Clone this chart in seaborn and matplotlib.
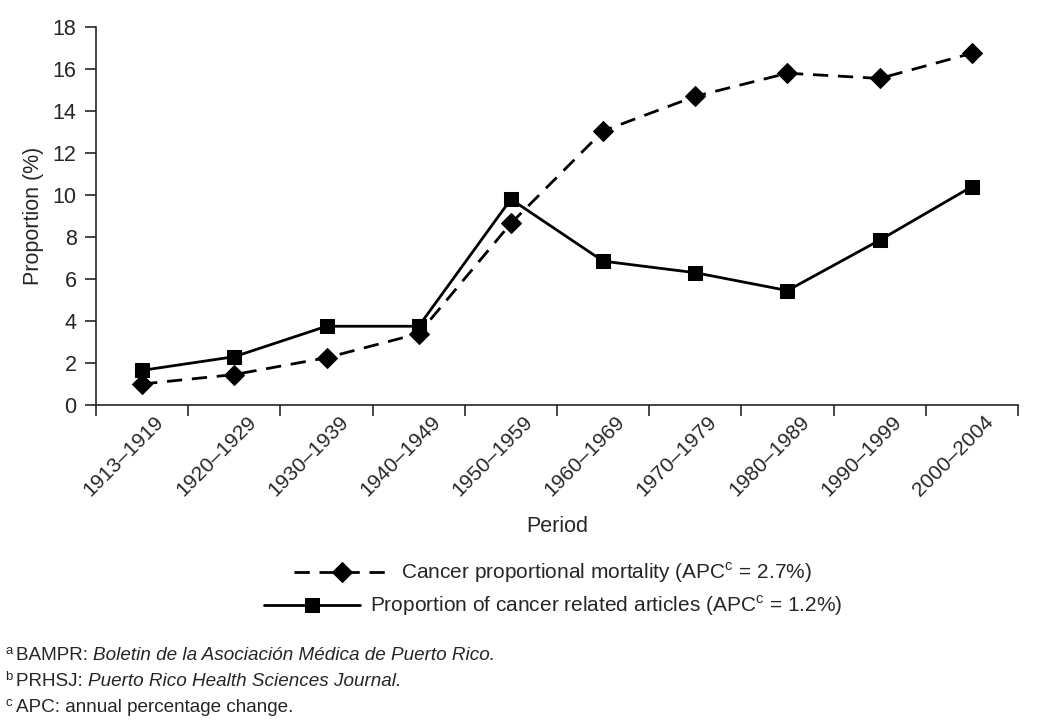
"""Cancer proportional mortality vs. proportion of cancer related articles, by period."""

import matplotlib.pyplot as plt
import pandas as pd
import seaborn as sns
from matplotlib.transforms import ScaledTranslation

periods = ["1913–1919", "1920–1929", "1930–1939", "1940–1949", "1950–1959",
           "1960–1969", "1970–1979", "1980–1989", "1990–1999", "2000–2004"]
mortality = [1.0, 1.45, 2.25, 3.4, 8.65, 13.05, 14.7, 15.8, 15.55, 16.75]
articles = [1.65, 2.3, 3.75, 3.75, 9.8, 6.85, 6.3, 5.45, 7.85, 10.4]

mortality_label = r"Cancer proportional mortality (APC$^{\mathrm{c}}$ = 2.7%)"
articles_label = r"Proportion of cancer related articles (APC$^{\mathrm{c}}$ = 1.2%)"

footnotes = [
    ("a", "BAMPR: ", "Boletin de la Asociación Médica de Puerto Rico."),
    ("b", "PRHSJ: ", "Puerto Rico Health Sciences Journal."),
    ("c", "APC: annual percentage change.", ""),
]

sns.set_style("ticks")
plt.rcParams["font.family"] = ["Liberation Sans", "DejaVu Sans"]
plt.rcParams["mathtext.fontset"] = "custom"
plt.rcParams["mathtext.rm"] = "Liberation Sans"

df = pd.DataFrame({"Period": periods, "Mortality": mortality, "Articles": articles})

fig = plt.figure(figsize=(10.5, 7.26), dpi=100)
ax = fig.add_axes([96 / 1050, 1 - 405 / 726, 922 / 1050, 378 / 726])

sns.lineplot(data=df, x="Period", y="Mortality", ax=ax, color="black",
             linewidth=2.0, linestyle=(0, (5.5, 3.5)), marker="D", markersize=10,
             markeredgecolor="black", legend=False)
sns.lineplot(data=df, x="Period", y="Articles", ax=ax, color="black",
             linewidth=2.0, marker="s", markersize=10,
             markeredgecolor="black", legend=False)
line_mort, line_art = ax.lines[0], ax.lines[1]

ax.set_xlim(-0.5, len(periods) - 0.5)
ax.set_ylim(0, 18)
ax.set_yticks(range(0, 19, 2))
ax.set_xticks(range(len(periods)))
ax.set_xticks([i - 0.5 for i in range(len(periods) + 1)], minor=True)
ax.set_xticklabels(periods, rotation=45, ha="right", rotation_mode="anchor", fontsize=15)
ax.tick_params(axis="x", which="major", length=0, pad=5)
ax.tick_params(axis="x", which="minor", length=8, width=1.2, direction="out")
ax.tick_params(axis="y", length=8, width=1.2, direction="out", labelsize=15.5, pad=6)
offset = ScaledTranslation(0.12, 0, fig.dpi_scale_trans)
for lbl in ax.get_xticklabels():
    lbl.set_transform(lbl.get_transform() + offset)

for side in ["top", "right"]:
    ax.spines[side].set_visible(False)
for side in ["left", "bottom"]:
    ax.spines[side].set_linewidth(1.2)

ax.set_xlabel("Period", fontsize=15.5, labelpad=12)
ax.set_ylabel("Proportion (%)", fontsize=15.5, labelpad=6)

# two separately centred legend rows
for handle, label, ypix in [(line_mort, mortality_label, 573), (line_art, articles_label, 606)]:
    fig.legend(handles=[handle], labels=[label], loc="center",
               bbox_to_anchor=(553 / 1050, 1 - ypix / 726), frameon=False,
               fontsize=15, handlelength=4.6, handletextpad=0.5,
               borderpad=0, borderaxespad=0)

# footnotes with superscript letters and italic journal names
for i, (sup, plain, italic) in enumerate(footnotes):
    ybase = 1 - (660 + i * 26) / 726
    fig.text(5 / 1050, ybase + 6 / 726, sup, fontsize=9.5, va="baseline")
    t = fig.text(16 / 1050, ybase, plain, fontsize=13.6, va="baseline")
    if italic:
        ax.annotate(italic, xy=(1, 0), xycoords=t, va="bottom", ha="left",
                    fontsize=13.6, fontstyle="italic", annotation_clip=False)

fig.savefig("out.png", dpi=100)
